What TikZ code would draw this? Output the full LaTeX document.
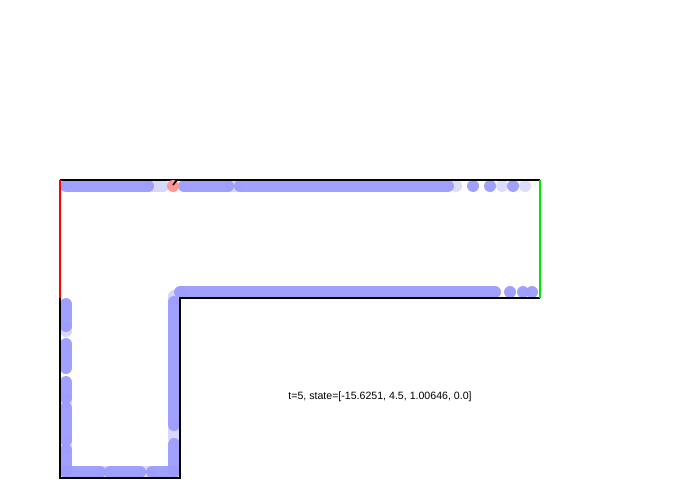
\documentclass[tikz,border=0pt]{standalone}
\usepackage{fontspec}
\setmainfont{Liberation Sans}
\definecolor{agent}{RGB}{155,155,255}
\definecolor{pinkc}{RGB}{255,150,150}
\definecolor{greenw}{RGB}{0,230,0}
\tikzset{
  band/.style={line width=12pt, line cap=round, draw=agent, opacity=0.95},
  faint/.style={line width=12pt, line cap=round, draw=agent, opacity=0.4},
  dot/.style={fill=agent, opacity=0.95},
  fdot/.style={fill=agent, opacity=0.35},
  wall/.style={line width=2pt, draw=black},
}
\begin{document}
\begin{tikzpicture}[x=1pt,y=-1pt]
\useasboundingbox (0,0) rectangle (700,500);
% top band
\draw[band] (66,186) -- (148,186);
\draw[faint] (150,186) -- (163,186);
\draw[band] (184,186) -- (228,186);
\draw[faint] (231,186) -- (237,186);
\draw[band] (240,186) -- (448,186);
\fill[fdot] (456,186) circle (6);
\fill[dot] (473,186) circle (6);
\fill[dot] (490,186) circle (6);
\fill[fdot] (502,186) circle (6);
\fill[dot] (513,186) circle (6);
\fill[fdot] (525,186) circle (6);
% lower horizontal band
\draw[band] (180,292) -- (495,292);
\fill[fdot] (182,292) circle (6);
\fill[dot] (510,292) circle (6);
\fill[dot] (523,292) circle (6);
\fill[dot] (532,292) circle (6);
% left band
\draw[band] (66,304) -- (66,326);
\draw[faint] (66,328) -- (66,331);
\draw[band] (66,344) -- (66,368);
\draw[band] (66,382) -- (66,398);
\draw[faint] (66,400) -- (66,404);
\draw[band] (66,408) -- (66,440);
\draw[faint] (66,442) -- (66,448);
\draw[band] (66,450) -- (66,472);
% inner vertical band
\draw[faint] (174,296) -- (174,300);
\draw[band] (174,302) -- (174,425);
\draw[faint] (174,428) -- (174,438);
\draw[band] (174,444) -- (174,472);
% bottom band
\draw[band] (66,472) -- (100,472);
\draw[faint] (102,472) -- (106,472);
\draw[band] (110,472) -- (140,472);
\draw[faint] (143,472) -- (150,472);
\draw[band] (152,472) -- (174,472);
% walls
\draw[wall] (60,180) -- (540,180);
\draw[wall] (540,298) -- (180,298) -- (180,478) -- (60,478) -- (60,298);
\draw[line width=1.5pt, draw=red] (60,180) -- (60,298);
\draw[line width=1.5pt, draw=greenw] (540,180) -- (540,298);
% agent
\fill[pinkc] (173,186) circle (6);
\draw[line width=1.5pt] (173,185) -- (177,180);
% label
\node[font=\fontsize{10.6}{12}\selectfont, inner sep=0pt] (lbl) at (380,397) {t=5, state=[-15.6251, 4.5, 1.00646, 0.0]};
\end{tikzpicture}
\end{document}
